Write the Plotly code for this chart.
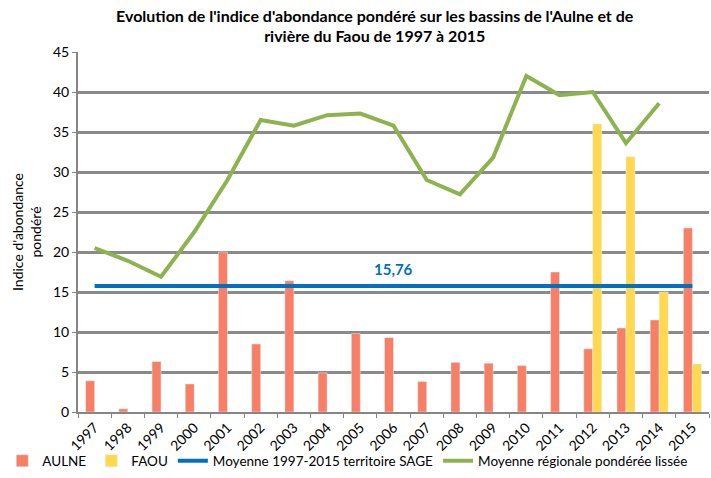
import plotly.graph_objects as go

years = [str(y) for y in range(1997, 2016)]
aulne = [3.9, 0.4, 6.3, 3.5, 20.0, 8.5, 16.4, 4.9, 9.8, 9.3, 3.8, 6.2, 6.1, 5.8, 17.5, 7.9, 10.5, 11.5, 23.0]
faou = [None] * 15 + [36.0, 31.9, 15.0, 6.0]
regional = [20.5, 18.9, 16.9, 22.5, 29.0, 36.5, 35.8, 37.1, 37.3, 35.8, 29.0, 27.2, 31.8, 42.0, 39.6, 40.0, 33.6, 38.6, None]
sage_mean = 15.76
sage_line = [sage_mean] * len(years)
sage_label = "15,76"
label_year = "2006"

font = "Lato, Liberation Sans, sans-serif"

fig = go.Figure()
fig.add_trace(go.Bar(x=years, y=aulne, name="AULNE", marker=dict(color="#F77F65")))
fig.add_trace(go.Bar(x=years, y=faou, name="FAOU", marker=dict(color="#FFD84D")))
fig.add_trace(go.Scatter(x=years, y=sage_line, name="Moyenne 1997-2015 territoire SAGE",
                         mode="lines", line=dict(color="#0070C0", width=4)))
fig.add_trace(go.Scatter(x=years, y=regional, name="Moyenne régionale pondérée lissée",
                         mode="lines", line=dict(color="#8DB34E", width=4)))

fig.add_annotation(x=years.index(label_year), y=17.9, text="<b>" + sage_label + "</b>", showarrow=False,
                   font=dict(color="#0070C0", size=15, family=font), xanchor="center", yanchor="middle")

fig.update_layout(
    width=711, height=478,
    margin=dict(l=76, r=2, t=52, b=66),
    paper_bgcolor="white", plot_bgcolor="white",
    barmode="group", bargap=0.46, bargroupgap=0,
    font=dict(family=font, size=13, color="#000000"),
    title=dict(text="<b>Evolution de l'indice d'abondance pondéré sur les bassins de l'Aulne et de<br>rivière du Faou de 1997 à 2015</b>",
               x=0.527, xanchor="center", y=0.955, yanchor="top",
               font=dict(size=16, family=font, color="#000000")),
    legend=dict(orientation="h", x=-0.12, xanchor="left", y=-0.093, yanchor="top",
                bgcolor="rgba(0,0,0,0)",
                font=dict(size=13.5, family=font), traceorder="normal",
                itemwidth=30, tracegroupgap=0),
    showlegend=True,
)
fig.update_xaxes(type="category", range=[-0.5, len(years) - 0.5], tickangle=-45, ticks="outside",
                 tickson="boundaries",
                 ticklen=4, tickcolor="#868686", showline=True, linecolor="#868686", linewidth=2,
                 showgrid=False, tickfont=dict(size=14, family=font), fixedrange=True)
fig.update_yaxes(range=[0, 45], dtick=5, showgrid=True, gridcolor="#8A8A8A", gridwidth=3,
                 ticks="outside", ticklen=4, tickcolor="#868686", showline=True, linecolor="#868686",
                 linewidth=2, zeroline=False, tickfont=dict(size=14, family=font),
                 title=dict(text="Indice d'abondance<br>pondéré", font=dict(size=14, family=font), standoff=8))

fig.write_html("out.html", config={"displayModeBar": False},
               post_script="document.body.style.margin='0px';")
